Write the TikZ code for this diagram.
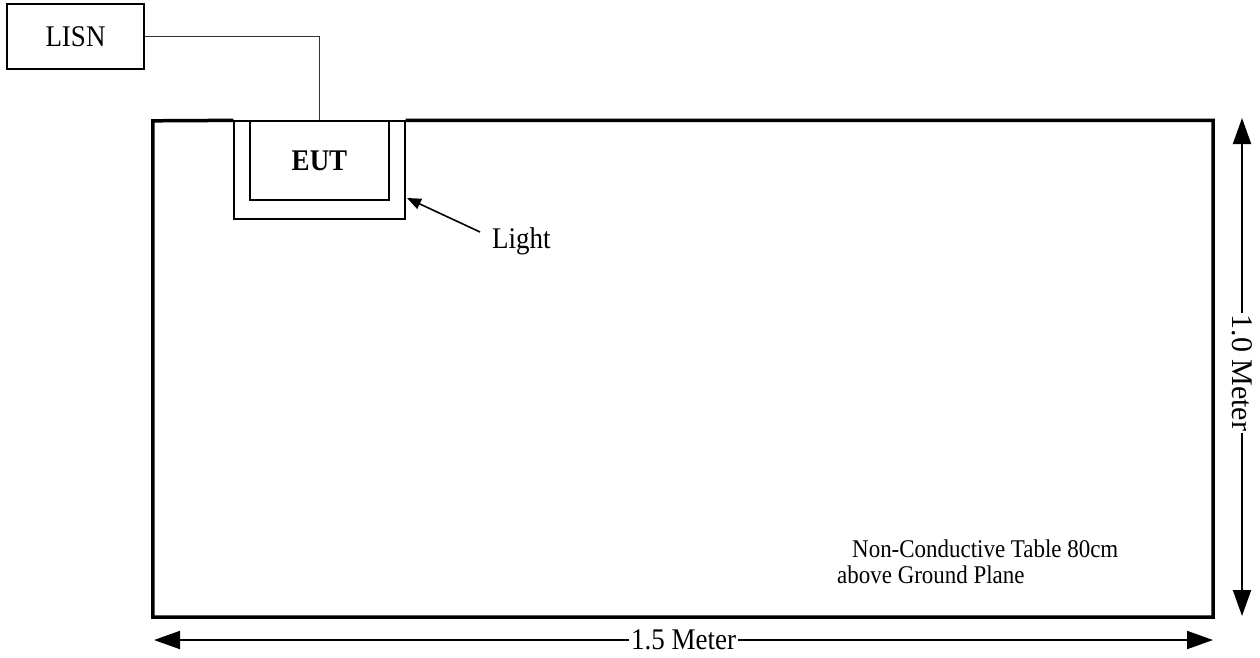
\documentclass[tikz,border=0pt]{standalone}
\usepackage{fontspec}
\setmainfont[FakeStretch=0.9]{Liberation Serif}
\newfontfamily\vertfont{Liberation Serif}
\usetikzlibrary{arrows.meta,positioning,calc}

\begin{document}
\begin{tikzpicture}[x=1pt,y=-1pt,
    every node/.style={inner sep=0pt},
    boxnode/.style={draw,line width=1.6pt,font=\fontsize{30}{36}\selectfont},
    eutnode/.style={draw,line width=1.3pt,font=\bfseries\fontsize{30}{36}\selectfont},
    lbl/.style={font=\fontsize{30}{36}\selectfont},
    tableline/.style={line width=3.5pt,line join=miter},
    cable/.style={line width=0.9pt,black!80},
    dimarrow/.style={line width=2pt,{Triangle[length=26pt,width=18pt]}-{Triangle[length=26pt,width=18pt]}},
    pointer/.style={line width=1.6pt,-{Triangle[length=14pt,width=11pt]}}
    ]
    \useasboundingbox (0,0) rectangle (1260,657);

    \node (lisn) [boxnode,minimum width=137pt,minimum height=65pt] at (75.5,36.5) {LISN};
    \node (table) [minimum width=1060pt,minimum height=496pt] at (683,369) {};
    \node (light) [draw,line width=1.3pt,minimum width=171pt,minimum height=98pt] at (319.5,170) {};
    \node (eut) [eutnode,minimum width=139pt,minimum height=79pt] at (319.5,160.5) {EUT};
    \node (lightlbl) [lbl,anchor=base west] at (492,248) {Light};
    \node (note) [anchor=north west,align=left,font=\fontsize{25.5}{26}\selectfont] at (837,540)
        {\hspace{15pt}Non-Conductive Table 80cm\\above Ground Plane};
    \coordinate (lighttip) at (407,198);

    % the table
    \draw[tableline] (light.north east) -| (table.south east) -| (table.north west) -- (light.north west);

    % the edges
    \draw[cable] (lisn.east) -| (eut.north);
    \draw[pointer] ([xshift=-12pt,yshift=-5pt]lightlbl.north west) -- (lighttip);

    % dimensions
    \draw[dimarrow] (1242,118) -- node[pos=0.512,fill=white,inner sep=2pt,rotate=-90,font=\vertfont\fontsize{30}{36}\selectfont] {1.0 Meter} (1242,616);
    \draw[dimarrow] (154,640) -- node[fill=white,inner sep=2pt,lbl] {1.5 Meter} (1213,640);
\end{tikzpicture}
\end{document}
